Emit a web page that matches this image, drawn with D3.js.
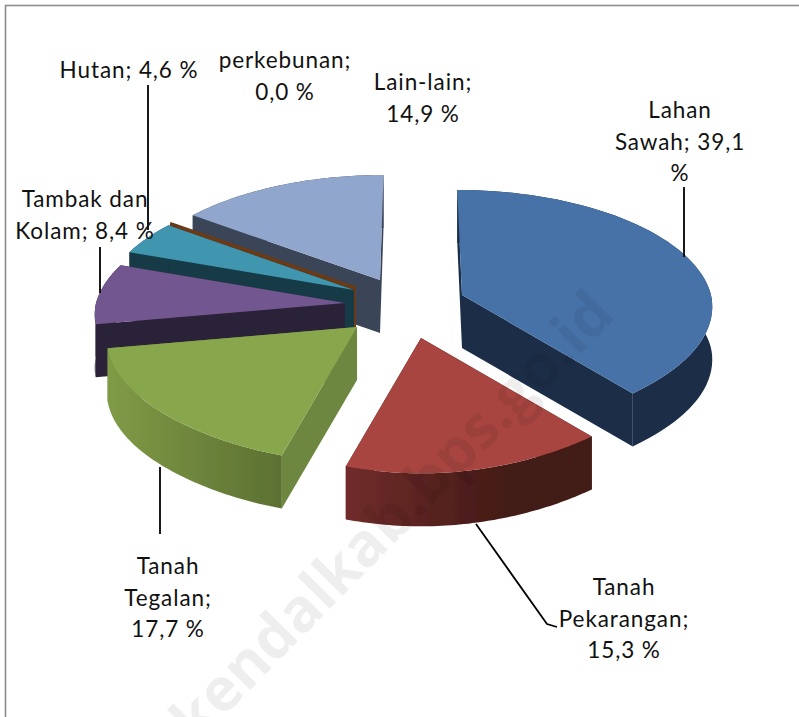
<!DOCTYPE html>
<html><head><meta charset="utf-8">
<script src="https://cdnjs.cloudflare.com/ajax/libs/d3/7.9.0/d3.min.js"></script>
<style>html,body{margin:0;padding:0;background:#fff;overflow:hidden}</style>
</head><body><svg id="c" width="799" height="717"></svg>
<script>
const categories = ["Lahan Sawah","Tanah Pekarangan","Tanah Tegalan","Tambak dan Kolam","Hutan","perkebunan","Lain-lain"];
const values = [39.1,15.3,17.7,8.4,4.6,0.0,14.9];
const topColors = ["#4672a8","#a84440","#88a64b","#71568f","#3f96ae","#6b3a14","#91a6cd"];
const wallColors = ["#1a2d47","#5a2320","#6a813a","#2c2138","#173b47","#6b3a14","#3b4558"];
const cutColors = ["#1a2d47","#451a16","#6e873f","#2c2138","#173b47","#6b3a14","#3b4558"];
const apexX = [462,421,357,345,354,356,380];
const apexY = [295,338,327,303,290,288,280];
const drawOrder = [6,5,4,3,2,0,1];
const labelLines = [["Lahan","Sawah; 39,1","%"],["Tanah","Pekarangan;","15,3 %"],["Tanah","Tegalan;","17,7 %"],["Tambak dan","Kolam; 8,4 %"],["Hutan; 4,6 %"],["perkebunan;","0,0 %"],["Lain-lain;","14,9 %"]];
const labelX = [680,624,168,85,129,285,423];
const labelY = [118,595,574,207,78,68,90];
const leaders = [[[684,187],[684,257]],[[476,524],[547,624],[557,627]],[[160,467],[160,534]],[[100,247],[100,293]],[[148,85],[148,230]]];

const svg = d3.select("#c");
const defs = svg.append("defs");
const soft = defs.append("filter").attr("id","soft").attr("x","-5%").attr("y","-5%").attr("width","110%").attr("height","110%");
soft.append("feGaussianBlur").attr("stdDeviation",0.6);
const gradients = [["gRed","#702c2a","#431a16"],["gGreen","#7f9b46","#5c7032"]];
gradients.forEach(([id,a,b])=>{
  const g = defs.append("linearGradient").attr("id",id);
  g.append("stop").attr("offset","0%").attr("stop-color",a);
  g.append("stop").attr("offset",id==="gRed"?"65%":"100%").attr("stop-color",b);
});
const rimFill = i => i===1 ? "url(#gRed)" : i===2 ? "url(#gGreen)" : wallColors[i];

svg.append("rect").attr("x",5.5).attr("y",5.5).attr("width",840).attr("height",760)
  .attr("fill","#fff").attr("stroke","#8c8c8c").attr("stroke-width",1.6);

const rx = 249, ry = 115.5, p = 0.1, vx = 415, depth = 53;
const arcs = d3.pie().sort(null).value(d=>d).startAngle(0).endAngle(2*Math.PI)(values);
const pt = (i,a,h=0)=>{
  const c = Math.cos(a), s = Math.sin(a), w = 1 + p*c;
  const front = 7*Math.pow(Math.max(0,-c),6);
  return [apexX[i] + rx*s/w + (vx-apexX[i])*0.1*Math.max(0,c), apexY[i] - ry*c/w + front + h];
};
const line = d3.line();
const chart = svg.append("g").attr("filter","url(#soft)");
drawOrder.forEach(i=>{
  const d = arcs[i];
  const n = 60;
  const as = d3.range(n+1).map(k=>d.startAngle + (d.endAngle-d.startAngle)*k/n);
  const rim = as.map(a=>pt(i,a));
  const rimLow = as.map(a=>pt(i,a,depth)).reverse();
  const a0 = [apexX[i],apexY[i]], a1 = [apexX[i],apexY[i]+depth];
  const g = chart.append("g").attr("class","slice").attr("data-name",categories[i]);
  [d.startAngle,d.endAngle].forEach(a=>{
    g.append("path").attr("d",line([a0,pt(i,a),pt(i,a,depth),a1])+"Z").attr("fill",cutColors[i]);
  });
  g.append("path").attr("d",line(rim.concat(rimLow))+"Z").attr("fill",rimFill(i));
  g.append("path").attr("d",line([a0].concat(rim))+"Z").attr("fill",topColors[i])
    .attr("stroke",values[i]===0?topColors[i]:"none").attr("stroke-width",3);
});

// watermark
svg.append("text").attr("transform","translate(196,745) rotate(-45.5)")
  .attr("font-family","'Open Sans',sans-serif").attr("font-weight",700).attr("font-size",60)
  .attr("fill","#000").attr("fill-opacity",0.065).text("kendalkab.bps.go.id");

const lg = svg.append("g").attr("fill","none").attr("stroke","#000").attr("stroke-width",1.8);
leaders.forEach(l=>lg.append("path").attr("d",line(l)));

const tg = svg.append("g").attr("font-family","Lato,sans-serif").attr("font-size",22.5)
  .attr("fill","#111").attr("text-anchor","middle").attr("letter-spacing",0.9);
labelLines.forEach((ls,i)=>ls.forEach((t,k)=>{
  tg.append("text").attr("x",labelX[i]).attr("y",labelY[i]+k*31.7).text(t);
}));
</script></body></html>
